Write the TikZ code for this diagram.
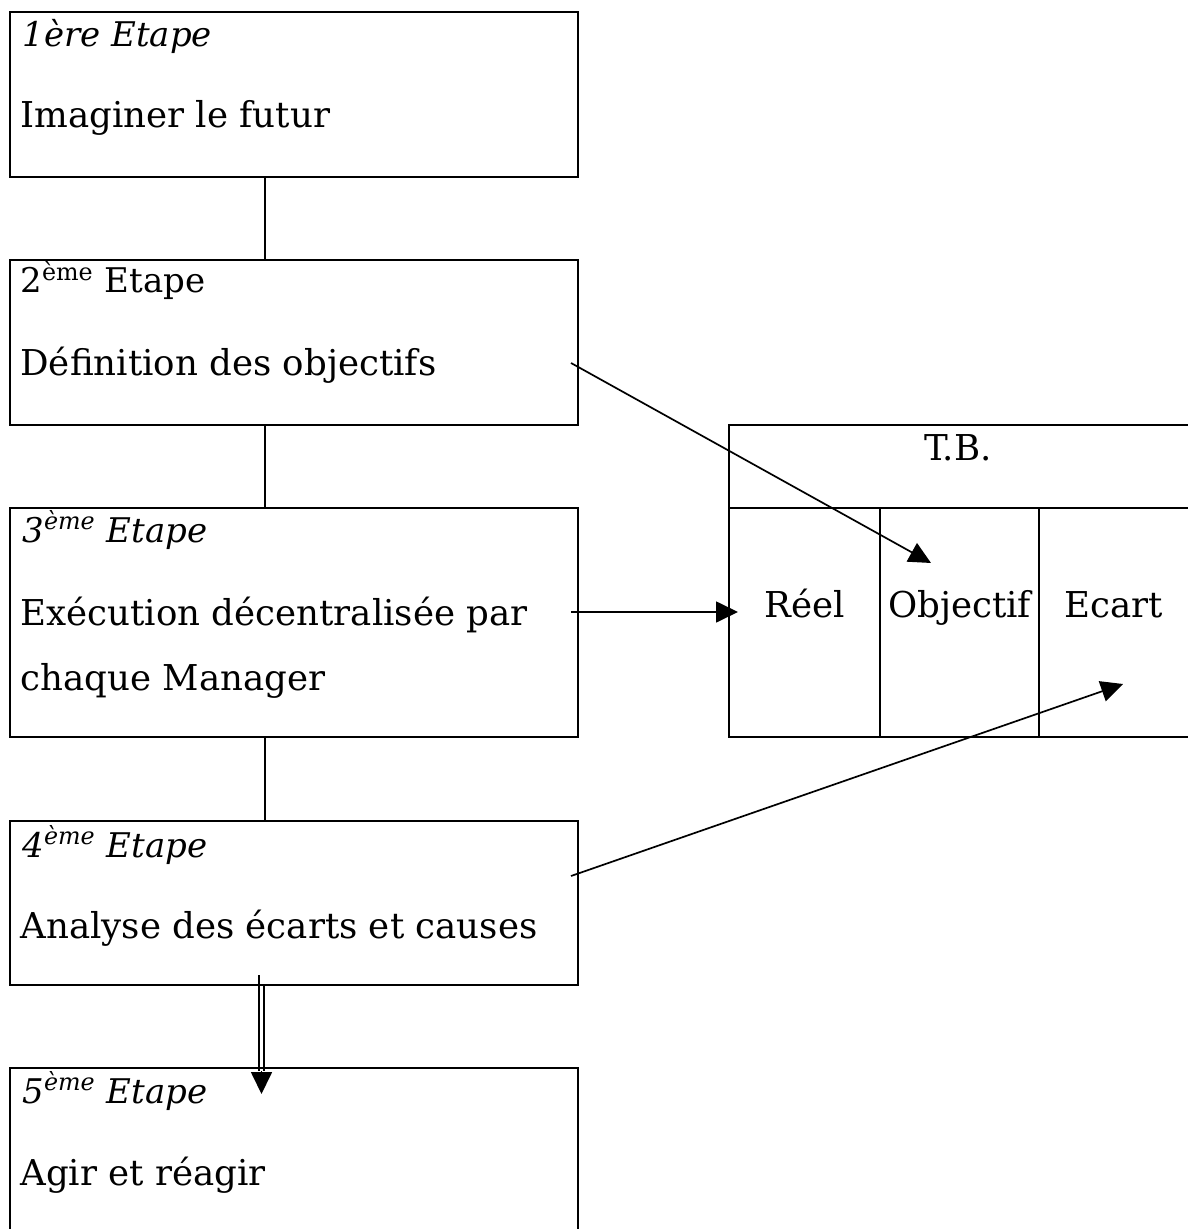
\documentclass[tikz,border=0pt]{standalone}
\usepackage{fontspec}
\setmainfont{DejaVu Serif}
\usetikzlibrary{arrows.meta,calc}

\newcommand{\bodyfont}{\fontsize{17.8pt}{21pt}\selectfont}
\newcommand{\headfont}{\fontsize{17pt}{20pt}\selectfont}

\begin{document}
\begin{tikzpicture}[x=0.5pt,y=-0.5pt,
  stage/.style={draw, line width=1.15pt, inner sep=0pt, outer sep=0pt,
                minimum width=284pt, anchor=north west},
  cell/.style={draw, line width=1.15pt, inner sep=0pt, outer sep=0pt, anchor=north west},
  headtxt/.style={inner sep=0pt, anchor=base west, font=\headfont},
  bodytxt/.style={inner sep=0pt, anchor=base west, font=\bodyfont},
  celltxt/.style={inner sep=0pt, anchor=base, font=\bodyfont},
  link/.style={line width=0.85pt},
  arrow/.style={line width=0.85pt, -{Triangle[length=11pt, width=10.5pt]}}
]
\useasboundingbox (0,0) rectangle (1187,1229);

% the five stages
\node[stage, minimum height=82.5pt]  (s1) at (10,12)   {};
\node[stage, minimum height=82.5pt]  (s2) at (10,260)  {};
\node[stage, minimum height=114.5pt] (s3) at (10,508)  {};
\node[stage, minimum height=82pt]    (s4) at (10,821)  {};
\node[stage, minimum height=82.5pt]  (s5) at (10,1068) {};

\node[headtxt] (h1) at ($(s1.north west)+(12,35)$) {\itshape 1ère Etape};
\node[bodytxt] (b1) at ($(s1.north west)+(10,116)$) {Imaginer le futur};

\node[headtxt] (h2) at ($(s2.north west)+(10,33)$) {2\textsuperscript{ème} Etape};
\node[bodytxt] (b2) at ($(s2.north west)+(10,116)$) {Définition des objectifs};

\node[headtxt] (h3) at ($(s3.north west)+(12,34)$) {\itshape 3\textsuperscript{ème} Etape};
\node[bodytxt] (b3) at ($(s3.north west)+(10,117)$) {Exécution décentralisée par};
\node[bodytxt] (c3) at ($(s3.north west)+(10,182)$) {chaque Manager};

\node[headtxt] (h4) at ($(s4.north west)+(12,36)$) {\itshape 4\textsuperscript{ème} Etape};
\node[bodytxt] (b4) at ($(s4.north west)+(10,117)$) {Analyse des écarts et causes};

\node[headtxt] (h5) at ($(s5.north west)+(12,35)$) {\itshape 5\textsuperscript{ème} Etape};
\node[bodytxt] (b5) at ($(s5.north west)+(10,117)$) {Agir et réagir};

% links between the stages
\coordinate (spine) at (265,0);
\draw[link] (s1.south -| spine) -- (s2.north -| spine);
\draw[link] (s2.south -| spine) -- (s3.north -| spine);
\draw[link] (s3.south -| spine) -- (s4.north -| spine);

% tableau de bord
\node[cell, minimum width=230pt, minimum height=41.5pt]  (tb)   at (729,425) {};
\node[cell, minimum width=75.5pt, minimum height=114.5pt] (reel) at (729,508) {};
\node[cell, minimum width=79.5pt, minimum height=114.5pt] (obj)  at (880,508) {};
\node[cell, minimum width=75pt,  minimum height=114.5pt] (ecart) at (1039,508) {};

\node[celltxt] (tbt) at (958,460) {T.B.};
\node[celltxt] at ($(reel.north)+(0,109)$)  {Réel};
\node[celltxt] at ($(obj.north)+(0,109)$)   {Objectif};
\node[celltxt] at ($(ecart.north)+(0,109)$) {Ecart};

% arrows towards the table
\coordinate (o2) at (571,363);
\coordinate (t2) at (931,563);
\draw[arrow] (o2) -- (t2);

\coordinate (o3) at (571,612);
\coordinate (t3) at (738,612);
\draw[arrow] (o3) -- (t3);

\coordinate (o4) at (571,876);
\coordinate (t4) at (1123,684);
\draw[arrow] (o4) -- (t4);

% double link from stage 4 to stage 5
\coordinate (dl) at (259,975);
\coordinate (dr) at (264,985);
\coordinate (dend) at (0,1071);
\coordinate (dtip) at (261.5,1094);
\draw[link] (dl) -- (dl |- dend);
\draw[link] (dr) -- (dr |- dend);
\draw[arrow] (dtip |- dend) -- (dtip);
\end{tikzpicture}
\end{document}
